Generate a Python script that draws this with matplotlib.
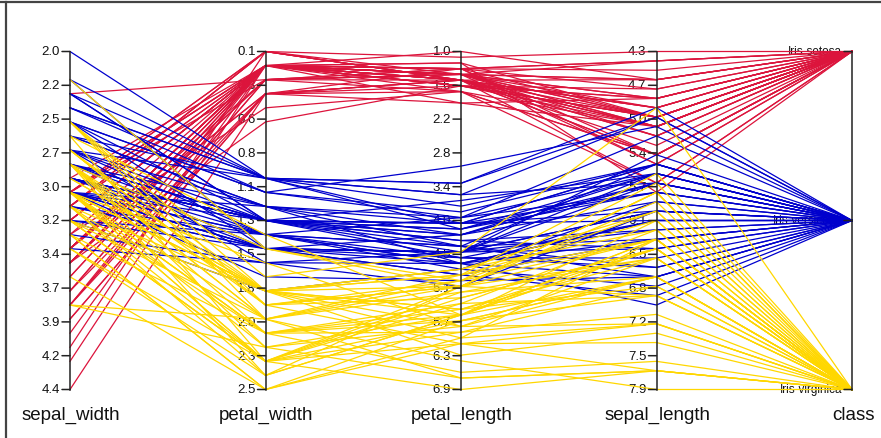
import matplotlib
matplotlib.use("Agg")
import matplotlib.pyplot as plt
from matplotlib.lines import Line2D
from matplotlib.transforms import offset_copy

plt.rcParams['font.family'] = ['Liberation Sans', 'DejaVu Sans']

# Iris measurements (sepal_length, sepal_width, petal_length, petal_width)
sepal_length = [
    5.1, 4.9, 4.7, 4.6, 5.0, 5.4, 4.6, 5.0, 4.4, 4.9, 5.4, 4.8, 4.8, 4.3, 5.8, 5.7, 5.4, 5.1, 5.7, 5.1,
    5.4, 5.1, 4.6, 5.1, 4.8, 5.0, 5.0, 5.2, 5.2, 4.7, 4.8, 5.4, 5.2, 5.5, 4.9, 5.0, 5.5, 4.9, 4.4, 5.1,
    5.0, 4.5, 4.4, 5.0, 5.1, 4.8, 5.1, 4.6, 5.3, 5.0,
    7.0, 6.4, 6.9, 5.5, 6.5, 5.7, 6.3, 4.9, 6.6, 5.2, 5.0, 5.9, 6.0, 6.1, 5.6, 6.7, 5.6, 5.8, 6.2, 5.6,
    5.9, 6.1, 6.3, 6.1, 6.4, 6.6, 6.8, 6.7, 6.0, 5.7, 5.5, 5.5, 5.8, 6.0, 5.4, 6.0, 6.7, 6.3, 5.6, 5.5,
    5.5, 6.1, 5.8, 5.0, 5.6, 5.7, 5.7, 6.2, 5.1, 5.7,
    6.3, 5.8, 7.1, 6.3, 6.5, 7.6, 4.9, 7.3, 6.7, 7.2, 6.5, 6.4, 6.8, 5.7, 5.8, 6.4, 6.5, 7.7, 7.7, 6.0,
    6.9, 5.6, 7.7, 6.3, 6.7, 7.2, 6.2, 6.1, 6.4, 7.2, 7.4, 7.9, 6.4, 6.3, 6.1, 7.7, 6.3, 6.4, 6.0, 6.9,
    6.7, 6.9, 5.8, 6.8, 6.7, 6.7, 6.3, 6.5, 6.2, 5.9,
]
sepal_width = [
    3.5, 3.0, 3.2, 3.1, 3.6, 3.9, 3.4, 3.4, 2.9, 3.1, 3.7, 3.4, 3.0, 3.0, 4.0, 4.4, 3.9, 3.5, 3.8, 3.8,
    3.4, 3.7, 3.6, 3.3, 3.4, 3.0, 3.4, 3.5, 3.4, 3.2, 3.1, 3.4, 4.1, 4.2, 3.1, 3.2, 3.5, 3.1, 3.0, 3.4,
    3.5, 2.3, 3.2, 3.5, 3.8, 3.0, 3.8, 3.2, 3.7, 3.3,
    3.2, 3.2, 3.1, 2.3, 2.8, 2.8, 3.3, 2.4, 2.9, 2.7, 2.0, 3.0, 2.2, 2.9, 2.9, 3.1, 3.0, 2.7, 2.2, 2.5,
    3.2, 2.8, 2.5, 2.8, 2.9, 3.0, 2.8, 3.0, 2.9, 2.6, 2.4, 2.4, 2.7, 2.7, 3.0, 3.4, 3.1, 2.3, 3.0, 2.5,
    2.6, 3.0, 2.6, 2.3, 2.7, 3.0, 2.9, 2.9, 2.5, 2.8,
    3.3, 2.7, 3.0, 2.9, 3.0, 3.0, 2.5, 2.9, 2.5, 3.6, 3.2, 2.7, 3.0, 2.5, 2.8, 3.2, 3.0, 3.8, 2.6, 2.2,
    3.2, 2.8, 2.8, 2.7, 3.3, 3.2, 2.8, 3.0, 2.8, 3.0, 2.8, 3.8, 2.8, 2.8, 2.6, 3.0, 3.4, 3.1, 3.0, 3.1,
    3.1, 3.1, 2.7, 3.2, 3.3, 3.0, 2.5, 3.0, 3.4, 3.0,
]
petal_length = [
    1.4, 1.4, 1.3, 1.5, 1.4, 1.7, 1.4, 1.5, 1.4, 1.5, 1.5, 1.6, 1.4, 1.1, 1.2, 1.5, 1.3, 1.4, 1.7, 1.5,
    1.7, 1.5, 1.0, 1.7, 1.9, 1.6, 1.6, 1.5, 1.4, 1.6, 1.6, 1.5, 1.5, 1.4, 1.5, 1.2, 1.3, 1.5, 1.3, 1.5,
    1.3, 1.3, 1.3, 1.6, 1.9, 1.4, 1.6, 1.4, 1.5, 1.4,
    4.7, 4.5, 4.9, 4.0, 4.6, 4.5, 4.7, 3.3, 4.6, 3.9, 3.5, 4.2, 4.0, 4.7, 3.6, 4.4, 4.5, 4.1, 4.5, 3.9,
    4.8, 4.0, 4.9, 4.7, 4.3, 4.4, 4.8, 5.0, 4.5, 3.5, 3.8, 3.7, 3.9, 5.1, 4.5, 4.5, 4.7, 4.4, 4.1, 4.0,
    4.4, 4.6, 4.0, 3.3, 4.2, 4.2, 4.2, 4.3, 3.0, 4.1,
    6.0, 5.1, 5.9, 5.6, 5.8, 6.6, 4.5, 6.3, 5.8, 6.1, 5.1, 5.3, 5.5, 5.0, 5.1, 5.3, 5.5, 6.7, 6.9, 5.0,
    5.7, 4.9, 6.7, 4.9, 5.7, 6.0, 4.8, 4.9, 5.6, 5.8, 6.1, 6.4, 5.6, 5.1, 5.6, 6.1, 5.6, 5.5, 4.8, 5.4,
    5.6, 5.1, 5.1, 5.9, 5.7, 5.2, 5.0, 5.2, 5.4, 5.1,
]
petal_width = [
    0.2, 0.2, 0.2, 0.2, 0.2, 0.4, 0.3, 0.2, 0.2, 0.1, 0.2, 0.2, 0.1, 0.1, 0.2, 0.4, 0.4, 0.3, 0.3, 0.3,
    0.2, 0.4, 0.2, 0.5, 0.2, 0.2, 0.4, 0.2, 0.2, 0.2, 0.2, 0.4, 0.1, 0.2, 0.1, 0.2, 0.2, 0.1, 0.2, 0.2,
    0.3, 0.3, 0.2, 0.6, 0.4, 0.3, 0.2, 0.2, 0.2, 0.2,
    1.4, 1.5, 1.5, 1.3, 1.5, 1.3, 1.6, 1.0, 1.3, 1.4, 1.0, 1.5, 1.0, 1.4, 1.3, 1.4, 1.5, 1.0, 1.5, 1.1,
    1.8, 1.3, 1.5, 1.2, 1.3, 1.4, 1.4, 1.7, 1.5, 1.0, 1.1, 1.0, 1.2, 1.6, 1.5, 1.6, 1.5, 1.3, 1.3, 1.3,
    1.2, 1.4, 1.2, 1.0, 1.3, 1.2, 1.3, 1.3, 1.1, 1.3,
    2.5, 1.9, 2.1, 1.8, 2.2, 2.1, 1.7, 1.8, 1.8, 2.5, 2.0, 1.9, 2.1, 2.0, 2.4, 2.3, 1.8, 2.2, 2.3, 1.5,
    2.3, 2.0, 2.0, 1.8, 2.1, 1.8, 1.8, 1.8, 2.1, 1.6, 1.9, 2.0, 2.2, 1.5, 1.4, 2.3, 2.4, 1.8, 1.8, 2.1,
    2.4, 2.3, 1.9, 2.3, 2.5, 2.3, 1.9, 2.0, 2.3, 1.8,
]
species = ["Iris-setosa"] * 50 + ["Iris-versicolor"] * 50 + ["Iris-virginica"] * 50

class_names = ["Iris-setosa", "Iris-versicolor", "Iris-virginica"]
class_colors = {"Iris-setosa": "#dc143c", "Iris-versicolor": "#0000cd", "Iris-virginica": "#ffd700"}

dimensions = ["sepal_width", "petal_width", "petal_length", "sepal_length", "class"]
tick_labels = {
    "sepal_width": ["2.0", "2.2", "2.5", "2.7", "3.0", "3.2", "3.4", "3.7", "3.9", "4.2", "4.4"],
    "petal_width": ["0.1", "0.3", "0.6", "0.8", "1.1", "1.3", "1.5", "1.8", "2.0", "2.3", "2.5"],
    "petal_length": ["1.0", "1.6", "2.2", "2.8", "3.4", "4.0", "4.5", "5.1", "5.7", "6.3", "6.9"],
    "sepal_length": ["4.3", "4.7", "5.0", "5.4", "5.7", "6.1", "6.5", "6.8", "7.2", "7.5", "7.9"],
}

columns = {
    "sepal_width": sepal_width,
    "petal_width": petal_width,
    "petal_length": petal_length,
    "sepal_length": sepal_length,
}

W, H = 881, 439
fig = plt.figure(figsize=(W / 100, H / 100), dpi=100)
x_left, x_right, y_top, y_bot = 70, 852, 52.5, 390.5
ax = fig.add_axes([x_left / W, 1 - y_bot / H, (x_right - x_left) / W, (y_bot - y_top) / H])
ax.set_xlim(0, len(dimensions) - 1)
ax.set_ylim(1, 0)
ax.axis("off")


def scale(dim, v):
    """Map a value onto the 0 (top) .. 1 (bottom) range of its axis."""
    if dim == "class":
        return class_names.index(v) / (len(class_names) - 1)
    vals = columns[dim]
    lo, hi = min(vals), max(vals)
    return (v - lo) / (hi - lo)


# one polyline per flower
for i in range(len(species)):
    row = {d: columns[d][i] for d in columns}
    row["class"] = species[i]
    ys = [scale(d, row[d]) for d in dimensions]
    ax.plot(range(len(dimensions)), ys, color=class_colors[species[i]],
            lw=0.9, zorder=3, clip_on=False)

# vertical axes with ticks, tick labels and axis titles
tick_px = 8
axis_color = "#222222"
for k, dim in enumerate(dimensions):
    ax.plot([k, k], [0, 1], color=axis_color, lw=1.1, zorder=4, clip_on=False)
    if dim == "class":
        labels, fs = class_names, 8.4
    else:
        labels, fs = tick_labels[dim], 9.5
    n = len(labels)
    text_tr = offset_copy(ax.transData, fig=fig, x=-(tick_px + 2) * 0.72, y=0, units="points")
    for j, lab in enumerate(labels):
        y = j / (n - 1)
        ax.annotate("", xy=(k, y), xytext=(-tick_px, 0), textcoords="offset pixels",
                    xycoords="data",
                    arrowprops=dict(arrowstyle="-", color=axis_color, lw=1.1,
                                    shrinkA=0, shrinkB=0), zorder=4)
        ax.text(k, y, lab, transform=text_tr, ha="right", va="center",
                fontsize=fs, color="#111111", zorder=1, clip_on=False)
    ax.text(k, 1, dim,
            transform=offset_copy(ax.transData, fig=fig, x=1 * 0.72, y=-25 * 0.72, units="points"),
            ha="center", va="center", fontsize=13.5, color="#111111", clip_on=False)

# outer frame edges
fig.add_artist(Line2D([0, 1], [1 - 2.5 / H, 1 - 2.5 / H], color="#444444", lw=1.6,
                      transform=fig.transFigure))
fig.add_artist(Line2D([5.5 / W, 5.5 / W], [0, 1 - 2.5 / H], color="#444444", lw=1.6,
                      transform=fig.transFigure))

fig.savefig("out.png", dpi=100)
